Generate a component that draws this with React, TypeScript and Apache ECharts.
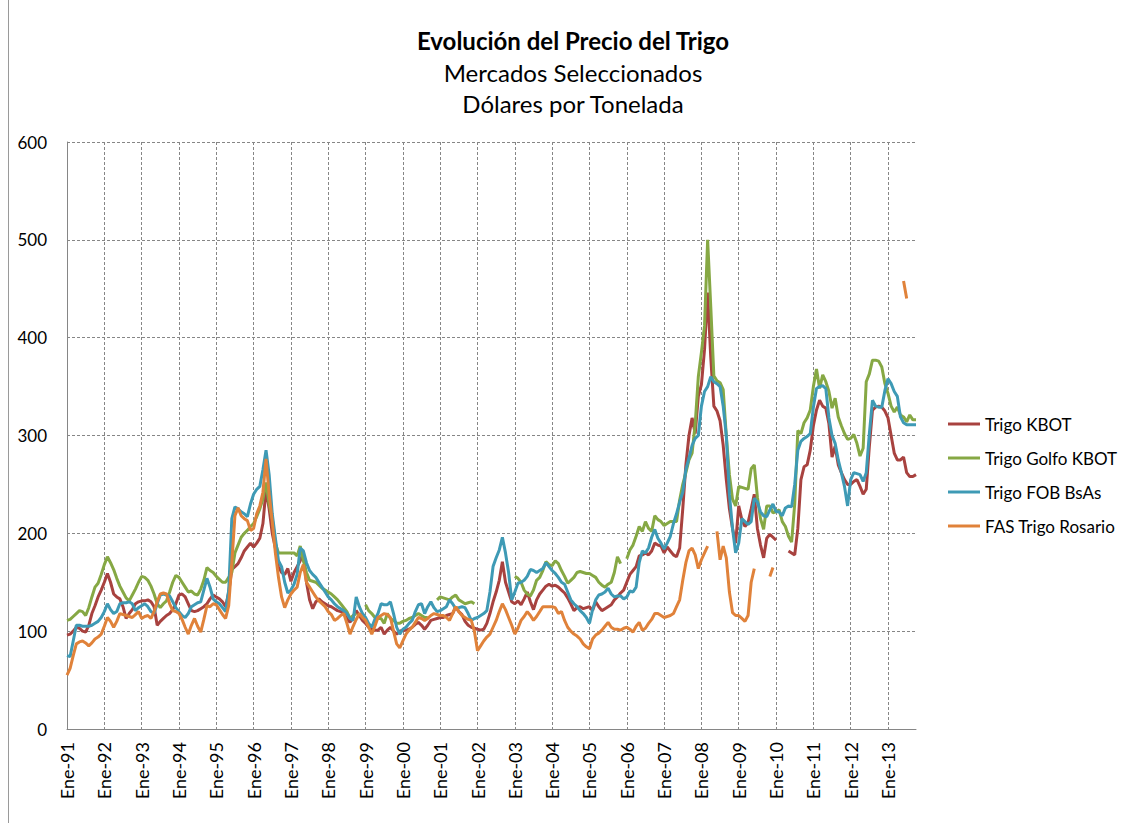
import React, { useEffect, useRef } from "react";
import * as echarts from "echarts";

const MESES = ["Ene", "Feb", "Mar", "Abr", "May", "Jun", "Jul", "Ago", "Sep", "Oct", "Nov", "Dic"];
const FIRST_YEAR = 1991;
const N_MONTHS = 274; // Ene-91 .. Oct-13

const categories: string[] = [];
for (let i = 0; i < N_MONTHS; i++) {
  const y = FIRST_YEAR + Math.floor(i / 12);
  categories.push(`${MESES[i % 12]}-${String(y).slice(2)}`);
}

const SERIES_NAMES = ["Trigo KBOT", "Trigo Golfo KBOT", "Trigo FOB BsAs", "FAS Trigo Rosario"];
const COLORS = ["#A8423F", "#86A844", "#3E9AB5", "#E0823A"];

const n = null;

const trigoKBOT = [
  96, 97, 100, 104, 103, 100, 99, 106, 118, 126, 135, 142,
  150, 159, 150, 138, 135, 133, 125, 113, 118, 122, 128, 130,
  131, 131, 132, 130, 125, 106, 110, 113, 116, 118, 122, 128,
  137, 138, 135, 128, 121, 120, 121, 123, 125, 128, 133, 137,
  135, 133, 130, 125, 140, 163, 166, 169, 175, 182, 186, 190,
  186, 190, 195, 210, 245, 225, 200, 185, 166, 160, 158, 164,
  151, 160, 166, 172, 180, 150, 132, 123, 130, 133, 130, 128,
  126, 125, 123, 121, 120, 118, 113, 109, 115, 121, 116, 111,
  108, 104, 102, 101, 101, 104, 97, 101, 104, 100, 97, 100,
  101, 101, 102, 104, 107, 109, 106, 102, 106, 111, 112, 113,
  114, 114, 116, 117, 118, 125, 120, 117, 110, 106, 104, 103,
  102, 101, 102, 108, 118, 130, 140, 152, 171, 150, 140, 130,
  128, 131, 127, 133, 140, 130, 122, 132, 138, 142, 146, 148,
  146, 147, 145, 142, 139, 134, 128, 121, 124, 125, 123, 124,
  125, 121, 130, 125, 121, 123, 125, 127, 132, 135, 139, 142,
  150, 158, 162, 166, 177, 178, 180, 178, 182, 190, 188, 187,
  180, 186, 182, 178, 176, 185, 225, 270, 300, 318, 302, 340,
  352, 388, 446, 380, 330, 325, 315, 290, 255, 225, 205, 190,
  228, 214, 207, 211, 225, 240, 205, 188, 175, 195, 199, 196,
  193, n, n, n, 182, 180, 178, 205, 255, 268, 270, 285,
  310, 326, 336, 330, 328, 312, 278, 289, 270, 262, 255, 250,
  250, 253, 255, 248, 240, 245, 289, 326, 329, 330, 329, 325,
  318, 300, 282, 275, 275, 278, 262, 258, 258, 260,
];

const trigoGolfoKBOT = [
  111, 112, 115, 118, 121, 120, 116, 124, 135, 145, 149, 158,
  168, 176, 170, 163, 154, 146, 140, 134, 131, 137, 143, 150,
  156, 155, 152, 146, 138, 128, 124, 128, 131, 140, 150, 157,
  155, 150, 145, 140, 141, 138, 137, 143, 152, 165, 162, 160,
  156, 153, 150, 150, 155, 160, 180, 188, 196, 200, 203, 207,
  210, 217, 225, 235, 252, 230, 215, 190, 180, 180, 180, 180,
  180, 180, 177, 187, 172, 160, 152, 151, 150, 147, 144, 142,
  140, 138, 135, 132, 128, 124, 120, 113, 116, 118, n, n,
  127, 121, 118, 114, 113, 113, 108, 118, 113, 111, 108, 108,
  110, 111, 113, 114, 116, 118, 116, 114, 114, n, n, 132,
  135, 134, 133, 132, 135, 137, 132, 130, 128, 129, 130, 128,
  n, n, n, n, n, n, n, n, n, n, n, n,
  156, 154, 150, 142, 138, 136, 142, 152, 155, 162, 171, 168,
  167, 172, 169, 162, 156, 149, 152, 155, 160, 161, 160, 159,
  159, 157, 155, 150, 147, 145, 148, 150, 160, 176, 169, n,
  174, 183, 188, 197, 207, 202, 212, 205, 202, 218, 214, 212,
  208, 210, 212, 212, 212, 234, 250, 262, 275, 282, 312, 360,
  385, 412, 500, 432, 361, 356, 354, 347, 300, 260, 235, 228,
  248, 247, 246, 245, 266, 270, 237, 215, 204, 228, 228, 221,
  222, 224, 212, 207, 197, 191, 230, 305, 302, 313, 318, 326,
  350, 368, 348, 362, 355, 345, 328, 338, 319, 310, 302, 296,
  297, 301, 292, 279, 287, 355, 363, 377, 377, 376, 370, 353,
  343, 330, 324, 329, 321, 319, 314, 321, 316, 316,
];

const trigoFOBBsAs = [
  75, 74, 90, 106, 106, 105, 105, 105, 106, 108, 110, 114,
  120, 128, 122, 118, 120, 128, 129, 129, 130, 128, 121, 124,
  126, 128, 125, 120, 118, 128, 137, 138, 137, 136, 130, 124,
  120, 116, 114, 118, 125, 127, 129, 130, 142, 154, 145, 133,
  130, 128, 124, 120, 142, 215, 227, 225, 222, 220, 217, 230,
  240, 245, 248, 265, 285, 260, 220, 195, 172, 166, 150, 139,
  142, 148, 158, 185, 182, 170, 162, 158, 155, 150, 145, 140,
  135, 132, 128, 125, 123, 121, 118, 113, 111, 135, 125, 118,
  114, 108, 104, 112, 118, 128, 127, 127, 130, 118, 104, 97,
  102, 104, 108, 111, 120, 127, 128, 118, 125, 130, 124, 120,
  121, 123, 125, 132, 128, 123, 124, 125, 124, 118, 111, 113,
  114, 116, 118, 121, 140, 166, 175, 183, 196, 180, 160, 132,
  140, 149, 150, 152, 156, 163, 162, 160, 162, 164, 170, 166,
  162, 159, 155, 150, 148, 140, 132, 128, 125, 121, 118, 114,
  108, 122, 132, 137, 138, 140, 144, 138, 135, 136, 136, 133,
  135, 141, 140, 145, 170, 182, 180, 185, 196, 204, 195, 190,
  184, 190, 197, 210, 220, 232, 242, 265, 277, 290, 297, 300,
  330, 345, 350, 360, 355, 353, 350, 330, 300, 240, 205, 180,
  190, 215, 212, 209, 212, 236, 232, 222, 218, 217, 224, 230,
  222, 222, 218, 226, 228, 227, 250, 285, 294, 297, 299, 302,
  329, 348, 350, 351, 348, 318, 300, 292, 275, 262, 248, 228,
  255, 262, 261, 260, 253, 262, 302, 336, 330, 329, 329, 346,
  358, 353, 345, 340, 319, 313, 311, 311, 311, 311,
];

const fasTrigoRosario = [
  55, 62, 75, 87, 89, 90, 88, 85, 88, 92, 94, 97,
  105, 114, 110, 104, 110, 118, 117, 116, 115, 114, 117, 120,
  113, 115, 116, 113, 120, 130, 138, 139, 138, 128, 121, 120,
  118, 112, 104, 97, 106, 113, 105, 99, 112, 126, 125, 128,
  127, 122, 117, 113, 126, 170, 218, 226, 218, 215, 213, 203,
  205, 220, 228, 242, 276, 240, 212, 180, 155, 135, 124, 132,
  138, 142, 145, 160, 168, 150, 145, 140, 135, 131, 128, 125,
  120, 117, 111, 113, 116, 118, 108, 97, 105, 112, 118, 114,
  111, 104, 97, 105, 114, 116, 118, 117, 114, 100, 87, 83,
  90, 97, 101, 104, 109, 114, 113, 111, 113, 116, 118, 117,
  116, 116, 114, 111, 118, 125, 120, 116, 114, 112, 111, 100,
  80, 85, 90, 94, 97, 104, 111, 120, 128, 122, 114, 106,
  97, 103, 111, 115, 120, 116, 111, 115, 120, 125, 125, 125,
  125, 124, 118, 120, 111, 104, 100, 97, 95, 92, 87, 84,
  82, 92, 96, 98, 101, 105, 109, 104, 102, 102, 101, 103,
  104, 102, 99, 105, 109, 101, 103, 108, 112, 118, 118, 116,
  114, 115, 116, 118, 125, 132, 152, 170, 182, 185, 178, 164,
  173, 180, 187, n, n, 202, 173, 187, 175, 140, 119, 116,
  116, 113, 110, 116, 150, 164, n, n, n, n, 156, 165,
  n, n, n, n, n, n, n, n, n, n, n, n,
  n, n, n, n, n, n, n, n, n, n, n, n,
  n, n, n, n, n, n, n, n, n, n, n, n,
  n, n, n, n, n, 458, 440, n, n, n,
];

const SERIES_DATA = [trigoKBOT, trigoGolfoKBOT, trigoFOBBsAs, fasTrigoRosario];

const TITLE = "Evolución del Precio del Trigo";
const SUBTITLE_1 = "Mercados Seleccionados";
const SUBTITLE_2 = "Dólares por Tonelada";

const FONT = "Lato, 'Open Sans', sans-serif";

export default function App() {
  const ref = useRef<HTMLDivElement>(null);
  useEffect(() => {
    if (!ref.current) return;
    const chart = echarts.init(ref.current, null, { renderer: "svg" });
    const gridColor = "#868686";
    chart.setOption({
      animation: false,
      backgroundColor: "#ffffff",
      textStyle: { fontFamily: FONT },
      grid: { left: 67, right: 213, top: 142, bottom: 94, containLabel: false },
      graphic: [
        { type: "line", shape: { x1: 8.5, y1: 0, x2: 8.5, y2: 823 }, style: { stroke: "#9a9a9a", lineWidth: 1 } },
        { type: "text", x: 573, y: 40, style: { text: TITLE, font: `bold 24px ${FONT}`, fill: "#000", textAlign: "center", textVerticalAlign: "middle" } },
        { type: "text", x: 573, y: 72, style: { text: SUBTITLE_1, font: `24px ${FONT}`, fill: "#000", textAlign: "center", textVerticalAlign: "middle" } },
        { type: "text", x: 573, y: 103, style: { text: SUBTITLE_2, font: `24px ${FONT}`, fill: "#000", textAlign: "center", textVerticalAlign: "middle" } },
      ],
      legend: {
        orient: "vertical",
        left: 948,
        top: 414,
        padding: 0,
        itemWidth: 32,
        itemHeight: 3,
        itemGap: 14,
        icon: "rect",
        textStyle: { fontSize: 17, color: "#000", fontFamily: FONT, lineHeight: 20 },
        data: SERIES_NAMES,
      },
      xAxis: {
        type: "category",
        boundaryGap: false,
        data: categories,
        axisLine: { lineStyle: { color: gridColor, width: 1 } },
        axisTick: { show: false },
        axisLabel: { interval: 11, rotate: 90, fontSize: 18, color: "#000", margin: 13, fontFamily: FONT },
        splitLine: { show: true, interval: 11, lineStyle: { color: gridColor, type: [3, 2], width: 1 } },
      },
      yAxis: {
        type: "value",
        min: 0,
        max: 600,
        interval: 100,
        axisLine: { show: true, lineStyle: { color: gridColor, width: 1 } },
        axisTick: { show: false },
        axisLabel: { fontSize: 17, color: "#000", margin: 20, fontFamily: FONT },
        splitLine: { show: true, lineStyle: { color: gridColor, type: [3, 2], width: 1 } },
      },
      series: SERIES_NAMES.map((name, i) => ({
        name,
        type: "line",
        data: SERIES_DATA[i],
        showSymbol: false,
        symbol: "none",
        connectNulls: false,
        color: COLORS[i],
        lineStyle: { color: COLORS[i], width: 3 },
      })),
    });
    return () => chart.dispose();
  }, []);
  return <div ref={ref} style={{ position: "fixed", left: 0, top: 0, width: 1129, height: 823, background: "#fff" }} />;
}
